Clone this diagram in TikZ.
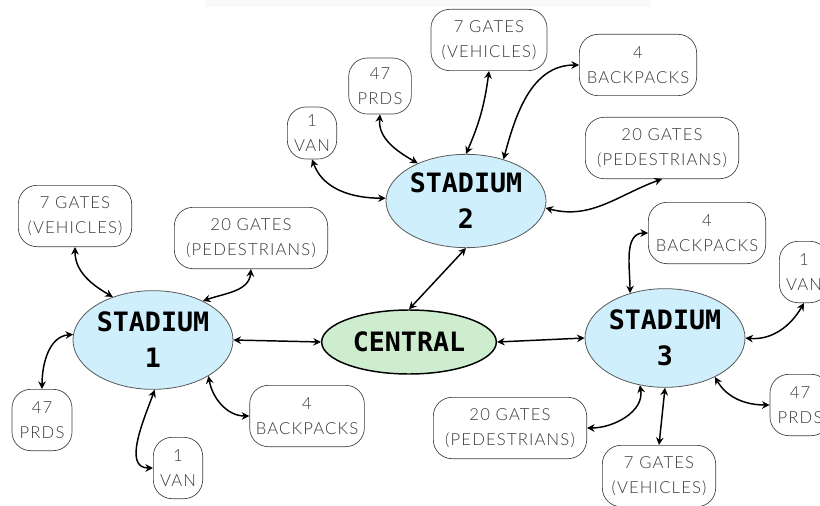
\documentclass[tikz,border=0pt]{standalone}
\usepackage{fontspec}
\usepackage{tikz}
\usetikzlibrary{arrows.meta,positioning,shapes.geometric}
\newfontfamily\hubfont{DejaVu Sans Mono}
\newfontfamily\tagfont{Lato Light}[LetterSpace=7]
\definecolor{stblue}{RGB}{207,239,252}
\definecolor{hubgreen}{RGB}{206,237,206}
\definecolor{tagtext}{RGB}{55,55,55}
\tikzset{
  stnode/.style={draw=black!65, line width=0.6pt, fill=stblue, ellipse, inner sep=0pt,
    minimum width=120pt, minimum height=74pt, align=center,
    font=\hubfont\bfseries\fontsize{20}{27}\selectfont},
  hubnode/.style={stnode, draw=black, line width=1.1pt, fill=hubgreen,
    minimum width=131pt, minimum height=48pt},
  tagbox/.style={draw=black!75, line width=0.5pt, rounded corners=14pt, inner sep=1pt,
    minimum height=46pt, align=center, text=tagtext,
    font=\tagfont\fontsize{12.5}{19}\selectfont},
  linkarrow/.style={{Stealth[length=2mm,width=2mm]}-{Stealth[length=2mm,width=2mm]}, line width=1.1pt},
}

\begin{document}
\begin{tikzpicture}[x=0.75pt,y=-0.75pt]
  \useasboundingbox (0,0) rectangle (820,506);
  \fill[black!2.5] (205,0) rectangle (650,7);

  % hub and stadiums
  \node[hubnode] (hub) at (409,342) {CENTRAL};
  \node[stnode] (s1) at (153,340) {STADIUM\\1};
  \node[stnode, minimum height=70pt] (s2) at (466,201) {STADIUM\\2};
  \node[stnode] (s3) at (665,338) {STADIUM\\3};

  \draw[linkarrow] (s1.east) -- (hub.west);
  \draw[linkarrow] (hub.north) -- (s2.south);
  \draw[linkarrow] (hub.east) -- (s3.west);

  % stadium 1
  \node[tagbox, minimum width=85pt] (s1veh) at (75,216) {7 GATES\\(VEHICLES)};
  \node[tagbox, minimum width=115pt] (s1ped) at (251,238) {20 GATES\\(PEDESTRIANS)};
  \node[tagbox, minimum width=45pt] (s1prd) at (42,420) {47\\PRDS};
  \node[tagbox, minimum width=37pt] (s1van) at (178,468) {1\\VAN};
  \node[tagbox, minimum width=86pt] (s1bag) at (307,416) {4\\BACKPACKS};

  \draw[linkarrow] (s1veh.south) to[out=-90,in=150] (s1.133);
  \draw[linkarrow] (s1ped.south) to[out=-95,in=20] (s1.38);
  \draw[linkarrow] (s1prd.north) to[out=90,in=185] (s1.176);
  \draw[linkarrow] (s1.272) to[out=250,in=180] (s1van.west);
  \draw[linkarrow] (s1.-33) to[out=-80,in=180] (s1bag.west);

  % stadium 2
  \node[tagbox, minimum width=87pt] (s2veh) at (489,40) {7 GATES\\(VEHICLES)};
  \node[tagbox, minimum width=47pt, minimum height=42pt] (s2prd) at (380,86) {47\\PRDS};
  \node[tagbox, minimum width=37pt, minimum height=39pt] (s2van) at (312,133) {1\\VAN};
  \node[tagbox, minimum width=88pt] (s2bag) at (638,65) {4\\BACKPACKS};
  \node[tagbox, minimum width=115pt] (s2ped) at (662,148) {20 GATES\\(PEDESTRIANS)};

  \draw[linkarrow] (s2van.south) to[out=-70,in=180] (s2.178);
  \draw[linkarrow] (s2prd.south) to[out=-95,in=150] (s2.142);
  \draw[linkarrow] (s2veh.south) to[bend left=8] (s2.north);
  \draw[linkarrow] (s2bag.west) to[out=180,in=75] (s2.48);
  \draw[linkarrow] (s2.-5) to[out=-15,in=200] (s2ped.south);

  % stadium 3
  \node[tagbox, minimum width=88pt] (s3bag) at (707,233) {4\\BACKPACKS};
  \node[tagbox, minimum width=37pt] (s3van) at (804,272) {1\\VAN};
  \node[tagbox, minimum width=45pt] (s3prd) at (800,405) {47\\PRDS};
  \node[tagbox, minimum width=115pt] (s3ped) at (510,428) {20 GATES\\(PEDESTRIANS)};
  \node[tagbox, minimum width=85pt] (s3veh) at (659,476) {7 GATES\\(VEHICLES)};

  \draw[linkarrow] (s3bag.west) to[out=180,in=90] (s3.128);
  \draw[linkarrow] (s3.east) to[out=-5,in=240] (s3van.south);
  \draw[linkarrow] (s3.-38) to[out=-60,in=180] (s3prd.west);
  \draw[linkarrow] (s3ped.east) to[out=0,in=-80] (s3.-118);
  \draw[linkarrow] (s3.south) -- (s3veh.north);
\end{tikzpicture}
\end{document}
